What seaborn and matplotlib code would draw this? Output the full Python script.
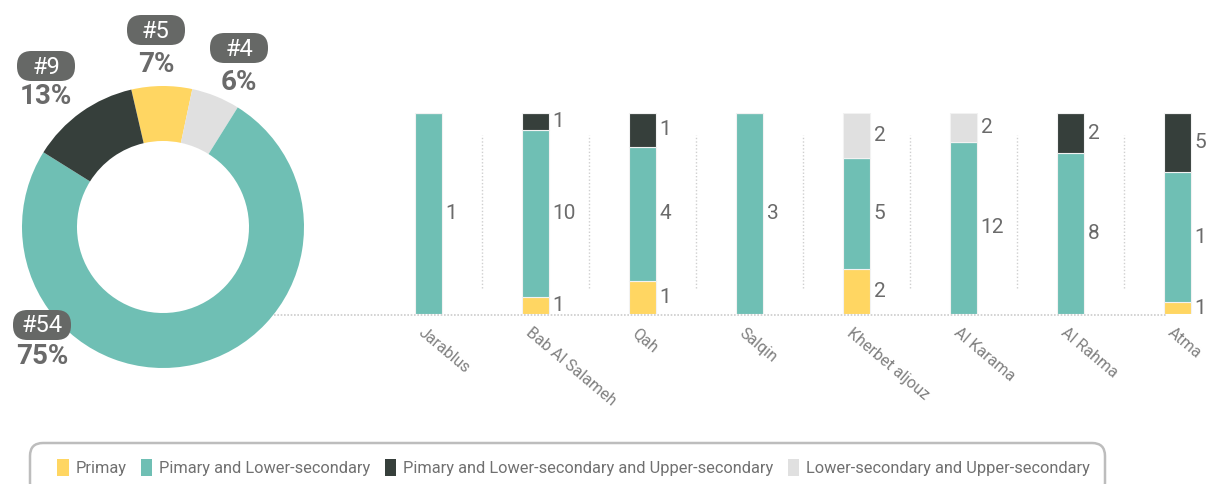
import numpy as np
import pandas as pd
import matplotlib
matplotlib.use("Agg")
import matplotlib.pyplot as plt
import seaborn as sns
from matplotlib.patches import FancyBboxPatch, Patch
from matplotlib.transforms import IdentityTransform, ScaledTranslation

# ---------------- data ----------------
categories = ["Jarablus", "Bab Al Salameh", "Qah", "Salqin",
              "Kherbet aljouz", "Al Karama", "Al Rahma", "Atma"]
series = ["Primay", "Pimary and Lower-secondary",
          "Pimary and Lower-secondary and Upper-secondary",
          "Lower-secondary and Upper-secondary"]
primay = [0, 1, 1, 0, 2, 0, 0, 1]
pimary_lower = [1, 10, 4, 3, 5, 12, 8, 11]
pimary_lower_upper = [0, 1, 1, 0, 0, 0, 2, 5]
lower_upper = [0, 0, 0, 0, 2, 2, 0, 0]
colors = ["#FFD662", "#6FBFB4", "#363F3B", "#E0E0E0"]

values = [primay, pimary_lower, pimary_lower_upper, lower_upper]
totals = np.sum(np.array(values), axis=0)

# donut: counts per series
donut_counts = [sum(v) for v in values]

sns.set_theme(style="white")
plt.rcParams["font.family"] = ["Roboto", "DejaVu Sans"]
TXT = "#6b6b6b"
W, H = 1206, 484

fig = plt.figure(figsize=(12.06, 4.84), dpi=100)

# ---------------- stacked 100% bars ----------------
unit = 107
ax = fig.add_axes([268 / W, 170 / H, 938 / W, 201 / H])
ax.patch.set_visible(False)
bottoms = np.zeros(len(categories))
for s, vals, col in zip(series, values, colors):
    h = np.array(vals) / totals
    sns.barplot(x=categories, y=h, bottom=bottoms, color=col, width=0.25, saturation=1,
                edgecolor="#f2f2f2", linewidth=0.8, ax=ax, order=categories)
    for j, v in enumerate(vals):
        if v > 0:
            ax.text(j + 0.125 + 0.035, bottoms[j] + h[j] / 2, str(v), ha="left",
                    va="center", fontsize=15, color=TXT)
    bottoms = bottoms + h

ax.set_xlim(-1.5, -1.5 + 938 / unit)
ax.set_ylim(0, 1)
for sp in ax.spines.values():
    sp.set_visible(False)
ax.set_yticks([])
ax.set_ylabel("")
ax.set_xlabel("")
ax.tick_params(axis="x", length=0, pad=8)
ax.set_xticks(range(len(categories)))
ax.set_xticklabels(categories, rotation=-40, ha="left", va="top",
                   rotation_mode="anchor", fontsize=11.5, color="#808080")
for lab in ax.get_xticklabels():
    lab.set_transform(lab.get_transform() + ScaledTranslation(-0.03, 0, fig.dpi_scale_trans))

for k in range(len(categories) - 1):
    ax.plot([k + 0.5, k + 0.5], [0.13, 0.89], ls=(0, (1, 1.5)), color="#cfcfcf", lw=1)
ax.plot([-1.44, 6.9], [-0.005, -0.005], ls=(0, (1, 1)), color="#cccccc", lw=1.2, clip_on=False)

# ---------------- donut ----------------
cx, cy, R = 163, H - 227, 141
axp = fig.add_axes([(cx - R) / W, (cy - R) / H, 2 * R / W, 2 * R / H])
order = [0, 3, 1, 2]  # clockwise: yellow, grey, teal, dark
axp.pie([donut_counts[i] for i in order], colors=[colors[i] for i in order],
        startangle=103, counterclock=False,
        wedgeprops=dict(width=0.39, linewidth=0))
axp.set_xlim(-1, 1)
axp.set_ylim(-1, 1)
axp.set_aspect("equal")
axp.axis("off")

total_all = sum(donut_counts)
# label positions (pixel coords in the image: centre x, bubble y, pct y)
label_pos = {0: (156, 30, 64), 3: (239, 48, 82), 2: (46, 66, 97), 1: (42, 325, 357)}
bw, bh = 58, 30
for i, (lx, by, py) in label_pos.items():
    bub = FancyBboxPatch((lx - bw / 2, H - by - bh / 2), bw, bh,
                         boxstyle="round,pad=0,rounding_size=14.5",
                         transform=IdentityTransform(), fc="#666866", ec="none", figure=fig)
    fig.patches.append(bub)
    fig.text(lx / W, 1 - (by + 1) / H, f"#{donut_counts[i]}", ha="center", va="center",
             color="white", fontsize=17)
    fig.text(lx / W, 1 - py / H, f"{int(100 * donut_counts[i] / total_all + 0.5)}%",
             ha="center", va="center", color="#6a6a6a", fontsize=20, fontweight="bold")

# ---------------- legend ----------------
frame = FancyBboxPatch((30, -12), 1075, 53, boxstyle="round,pad=0,rounding_size=13",
                       transform=IdentityTransform(), fc="none", ec="#bdbdbd", lw=1.8,
                       figure=fig)
fig.patches.append(frame)
handles = [Patch(facecolor=c, edgecolor="none") for c in colors]
fig.legend(handles, series, loc="center", bbox_to_anchor=(0.4755, 0.034), ncol=4,
           frameon=False, fontsize=11.75, handlelength=0.7, handleheight=1.2,
           handletextpad=0.4, columnspacing=0.9, labelcolor="#707070")

fig.savefig("out.png", dpi=100)
